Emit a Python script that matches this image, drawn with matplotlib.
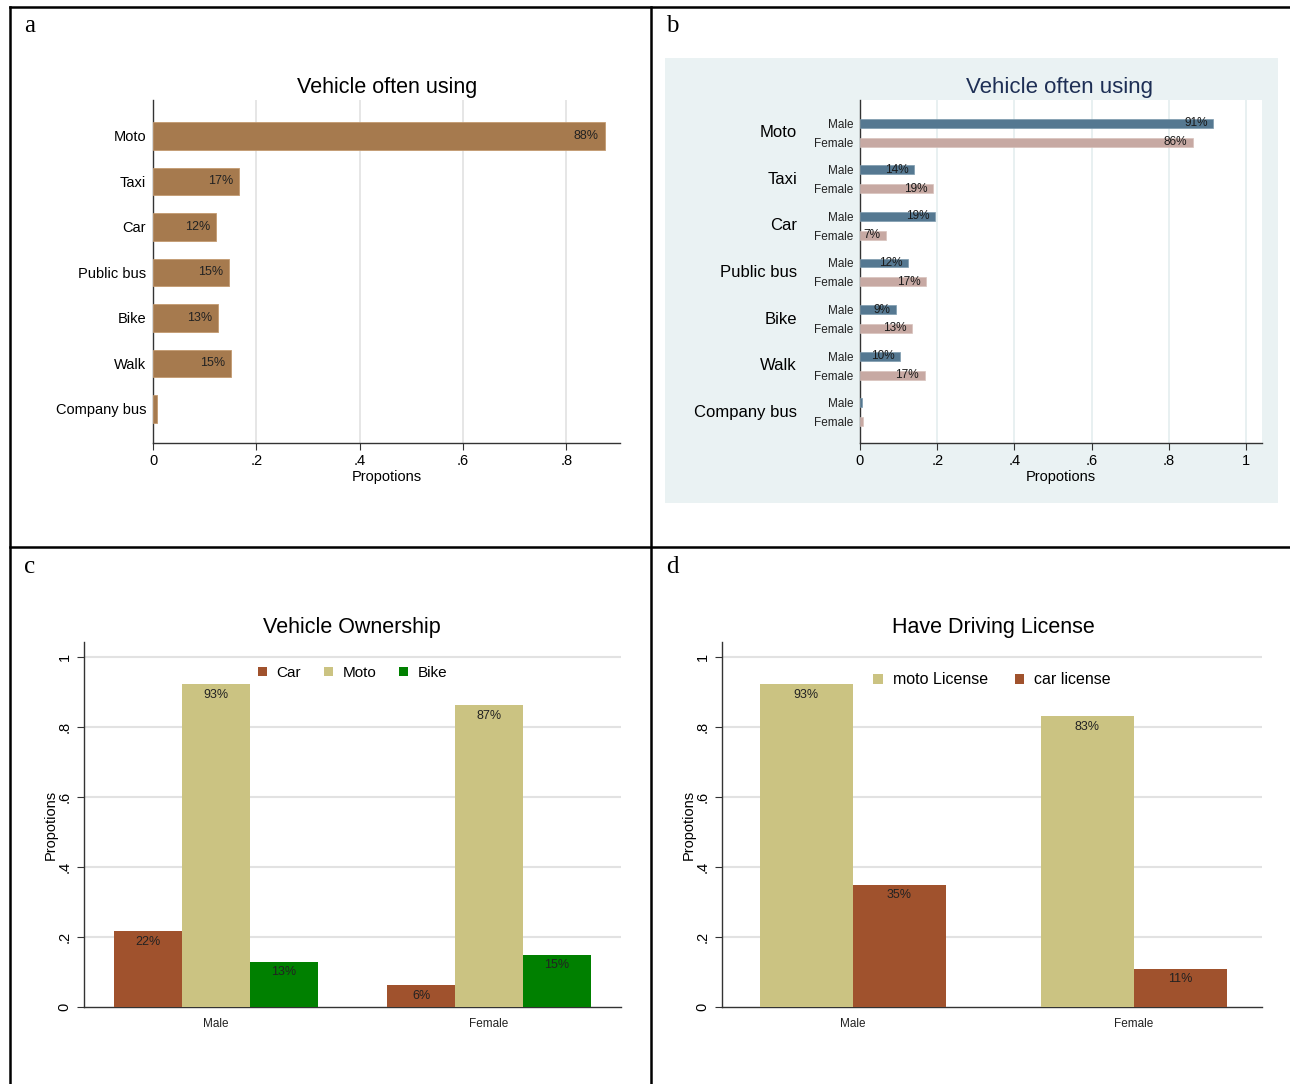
import matplotlib
matplotlib.use("Agg")
import matplotlib.pyplot as plt
from matplotlib.lines import Line2D
from matplotlib.patches import Rectangle
import numpy as np

plt.rcParams['font.family'] = ['Liberation Sans', 'DejaVu Sans']

# ---------------- data ----------------
vehicles = ["Moto", "Taxi", "Car", "Public bus", "Bike", "Walk", "Company bus"]
often_all = [0.875, 0.167, 0.122, 0.147, 0.126, 0.151, 0.008]
often_all_labels = ["88%", "17%", "12%", "15%", "13%", "15%", ""]

often_male = [0.915, 0.140, 0.194, 0.124, 0.093, 0.104, 0.005]
often_female = [0.863, 0.190, 0.067, 0.171, 0.135, 0.168, 0.008]
often_male_labels = ["91%", "14%", "19%", "12%", "9%", "10%", ""]
often_female_labels = ["86%", "19%", "7%", "17%", "13%", "17%", ""]

genders = ["Male", "Female"]
own_series = ["Car", "Moto", "Bike"]
own_car = [0.217, 0.063]
own_moto = [0.923, 0.863]
own_bike = [0.129, 0.149]
own_labels = {"Car": ["22%", "6%"], "Moto": ["93%", "87%"], "Bike": ["13%", "15%"]}

lic_series = ["moto License", "car license"]
lic_moto = [0.923, 0.831]
lic_car = [0.349, 0.109]
lic_labels = {"moto License": ["93%", "83%"], "car license": ["35%", "11%"]}

# ---------------- style ----------------
BROWN_A = "#A67A4E"
MALE_C = "#557891"
FEMALE_C = "#C7A9A3"
CAR_C = "#A0522D"
MOTO_C = "#CBC382"
BIKE_C = "#008000"
GRID_C = "#E2E2E2"
SPINE_C = "#333333"

W, H = 1290, 1084
fig = plt.figure(figsize=(W / 100, H / 100), dpi=100)
fig.patch.set_facecolor("white")


def fx(px):
    return px / W


def fy(py):
    return 1 - py / H


def axes_px(l, t, r, b):
    return fig.add_axes([fx(l), fy(b), fx(r) - fx(l), (b - t) / H])


# panel frame lines
for (x0, y0, x1, y1) in [(10, 7, 1290, 7), (10, 547, 1290, 547), (10, 7, 10, 1084), (651, 7, 651, 1084)]:
    fig.add_artist(Line2D([fx(x0), fx(x1)], [fy(y0), fy(y1)], color="black", lw=1.8))

for lab, (x, y) in zip("abcd", [(30, 26), (672, 26), (30, 567), (672, 567)]):
    fig.text(fx(x), fy(y), lab, family=["Liberation Serif"], fontsize=18, ha="center", va="center")


def style_common(ax):
    for s in ["top", "right"]:
        ax.spines[s].set_visible(False)
    ax.spines["left"].set_color(SPINE_C)
    ax.spines["bottom"].set_color(SPINE_C)
    ax.spines["left"].set_linewidth(1.0)
    ax.spines["bottom"].set_linewidth(1.0)


def fmt_tick(v):
    if abs(v) < 1e-9:
        return "0"
    if abs(v - 1) < 1e-9:
        return "1"
    return ("%.1f" % v).lstrip("0")


# ---------------- panel a ----------------
axa = axes_px(153, 100, 620, 443)
style_common(axa)
ya = np.arange(len(vehicles))
axa.barh(ya, often_all, height=0.6, color=BROWN_A, edgecolor="#C39A70", linewidth=0.6, zorder=3)
for y, v, t in zip(ya, often_all, often_all_labels):
    if t:
        axa.text(v - 0.012, y, t, ha="right", va="center", fontsize=9, color="#222222", zorder=4)
axa.set_ylim(6.75, -0.79)
axa.set_xlim(0, 0.904)
xt = [0, 0.2, 0.4, 0.6, 0.8]
axa.set_xticks(xt)
axa.set_xticklabels([fmt_tick(v) for v in xt], fontsize=10.5)
axa.set_yticks(ya)
axa.set_yticklabels(vehicles, fontsize=10.5)
axa.tick_params(axis="y", length=0, pad=5)
axa.tick_params(axis="x", length=5, width=0.8, color=SPINE_C, pad=3)
for v in xt[1:]:
    axa.axvline(v, color=GRID_C, lw=1.2, zorder=0)
axa.set_xlabel("Propotions", fontsize=10.5, labelpad=1)
fig.text(fx(387), fy(87), "Vehicle often using", fontsize=15.5, ha="center", va="center")

# ---------------- panel b ----------------
fig.add_artist(Rectangle((fx(665), fy(503)), fx(1278) - fx(665), (503 - 58) / H,
                         facecolor="#EAF2F3", edgecolor="none", zorder=0))
axb = axes_px(860, 100, 1262, 443)
style_common(axb)
axb.set_facecolor("white")
yb = np.arange(len(vehicles))
off = 0.203
axb.barh(yb - off, often_male, height=0.19, color=MALE_C, edgecolor="#7D9AAE", linewidth=0.5, zorder=3)
axb.barh(yb + off, often_female, height=0.19, color=FEMALE_C, edgecolor="#D8C2BD", linewidth=0.5, zorder=3)
for y, v, t in zip(yb, often_male, often_male_labels):
    if t:
        axb.text(v - 0.015, y - off, t, ha="right", va="center", fontsize=8.5, color="#1a1a1a", zorder=4)
for y, v, t in zip(yb, often_female, often_female_labels):
    if t:
        axb.text(v - 0.015, y + off, t, ha="right", va="center", fontsize=8.5, color="#1a1a1a", zorder=4)
axb.set_ylim(6.66, -0.70)
axb.set_xlim(0, 1.041)
xtb = [0, 0.2, 0.4, 0.6, 0.8, 1.0]
axb.set_xticks(xtb)
axb.set_xticklabels([fmt_tick(v) for v in xtb], fontsize=10.5)
sub_pos = np.concatenate([yb - off, yb + off])
sub_lab = ["Male"] * len(yb) + ["Female"] * len(yb)
axb.set_yticks(sub_pos)
axb.set_yticklabels(sub_lab, fontsize=8.5, color="#222222")
axb.tick_params(axis="y", length=0, pad=5)
axb.tick_params(axis="x", length=5, width=0.8, color=SPINE_C, pad=3)
for v in xtb[1:]:
    axb.axvline(v, color="#E4EDEF", lw=1.2, zorder=0)
for y, name in zip(yb, vehicles):
    axb.text(-0.157, y, name, transform=axb.get_yaxis_transform(), ha="right", va="center", fontsize=12)
axb.set_xlabel("Propotions", fontsize=10.5, labelpad=1)
fig.text(fx(1060), fy(87), "Vehicle often using", fontsize=16, ha="center", va="center", color="#1E2F55")


# ---------------- panels c & d ----------------
def grouped(ax, series_names, series_vals, colors, labels, width, xlim, legend_y, colsp, lfs):
    style_common(ax)
    n = len(series_names)
    x = np.arange(len(genders))
    for i, (nm, vals, c) in enumerate(zip(series_names, series_vals, colors)):
        pos = x + (i - (n - 1) / 2) * width
        ax.bar(pos, vals, width=width, color=c, edgecolor="none", zorder=3, label=nm)
        for p, v, t in zip(pos, vals, labels[nm]):
            ax.text(p, v - 0.013, t, ha="center", va="top", fontsize=9, color="#222222", zorder=4)
    ax.set_xlim(*xlim)
    ax.set_ylim(0, 1.043)
    yt = [0, 0.2, 0.4, 0.6, 0.8, 1.0]
    ax.set_yticks(yt)
    ax.set_yticklabels([fmt_tick(v) for v in yt], fontsize=10.5, rotation=90, va="center")
    ax.tick_params(axis="y", length=5, width=0.8, color=SPINE_C, pad=4)
    ax.set_xticks(x)
    ax.set_xticklabels(genders, fontsize=8.5, color="#222222")
    ax.tick_params(axis="x", length=0, pad=8)
    for v in yt[1:]:
        ax.axhline(v, color=GRID_C, lw=1.5, zorder=0)
    ax.set_ylabel("Propotions", fontsize=10.5, labelpad=0)
    ax.legend(loc="center", bbox_to_anchor=(0.5, legend_y), ncol=n, frameon=False,
              fontsize=lfs, handlelength=0.6, handleheight=0.6, handletextpad=0.6,
              columnspacing=colsp)


axc = axes_px(84, 642, 621, 1007)
grouped(axc, own_series, [own_car, own_moto, own_bike], [CAR_C, MOTO_C, BIKE_C], own_labels,
        0.249, (-0.4835, 1.4835), 0.915, 1.5, 11)
fig.text(fx(352), fy(627), "Vehicle Ownership", fontsize=15.5, ha="center", va="center")

axd = axes_px(722, 642, 1262, 1007)
grouped(axd, lic_series, [lic_moto, lic_car], [MOTO_C, CAR_C], lic_labels,
        0.331, (-0.466, 1.456), 0.896, 1.7, 11.5)
fig.text(fx(993), fy(627), "Have Driving License", fontsize=15.5, ha="center", va="center")

fig.savefig("out.png", dpi=100)
